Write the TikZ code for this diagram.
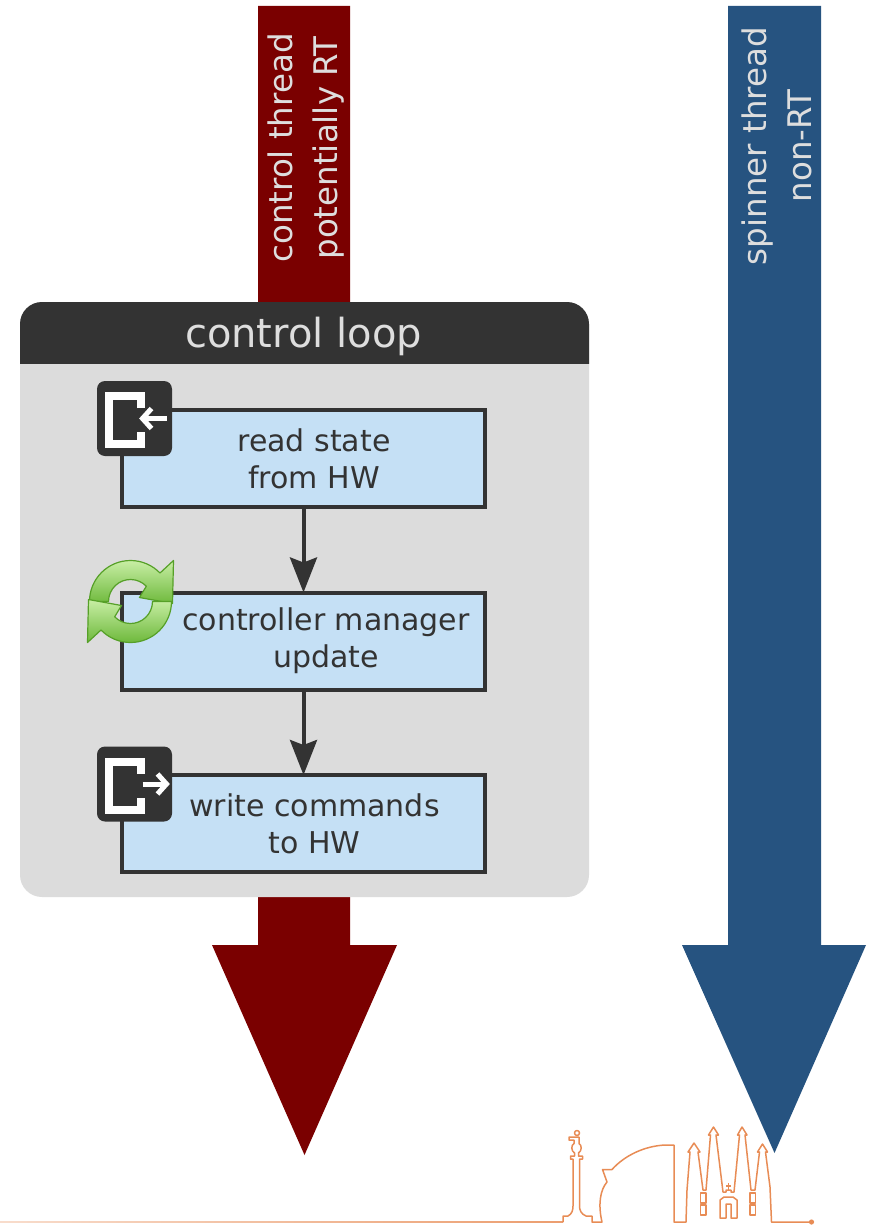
\documentclass[tikz,border=0pt]{standalone}
\usepackage{fontspec}
\setmainfont{DejaVu Sans}
\usetikzlibrary{arrows.meta}

\definecolor{rtred}{RGB}{122,0,0}
\definecolor{nrtblue}{RGB}{38,83,128}
\definecolor{loopgray}{RGB}{220,220,220}
\definecolor{headdark}{RGB}{51,51,51}
\definecolor{stepfill}{RGB}{197,224,245}
\definecolor{ink}{RGB}{51,51,51}
\definecolor{labelgray}{RGB}{222,222,222}
\definecolor{skyline}{RGB}{232,140,85}
\definecolor{leafedge}{RGB}{86,160,40}
\definecolor{leaflight}{RGB}{200,238,165}
\definecolor{leafmid}{RGB}{110,185,60}

\begin{document}
\begin{tikzpicture}[x=1pt,y=-1pt,
  threadlabel/.style={text=labelgray, rotate=90, align=center, inner sep=0pt,
    font=\fontsize{32.5}{45}\selectfont},
  stepbox/.style={draw=ink, line width=4pt, fill=stepfill, minimum width=363pt,
    minimum height=97pt, inner sep=0pt, outer sep=0pt},
  steptext/.style={text=ink, align=center, inner sep=0pt,
    font=\fontsize{30}{37}\selectfont},
  flow/.style={draw=ink, line width=4pt, -{Stealth[length=35pt,width=27pt,inset=5pt]}},
  ioicon/.style={fill=headdark, rounded corners=8pt, minimum size=75pt, inner sep=0pt},
  iomark/.style={draw=white, line width=8pt},
  ioarrow/.style={draw=white, line width=5pt},
  leaf/.style={draw=leafedge, line width=1.2pt, line join=round, top color=leaflight, bottom color=leafmid},
  skystroke/.style={draw=skyline, line width=1.5pt, line join=round},
]
\useasboundingbox (0,0) rectangle (871,1225);
\fill[white] (0,0) rectangle (871,1225);

% ---- thread arrows ----
\fill[rtred] (258,6) -- (350,6) -- (350,945) -- (397,945) -- (304.5,1155)
  -- (212,945) -- (258,945) -- cycle;
\fill[nrtblue] (728,6) -- (821,6) -- (821,945) -- (866,945) -- (774.5,1153)
  -- (682,945) -- (728,945) -- cycle;
\node[threadlabel] (ctl) at (306,148) {control thread\\potentially RT};
\node[threadlabel] (spin) at (777,146) {spinner thread\\non-RT};

% ---- control loop container ----
\node[fill=loopgray, rounded corners=22pt, minimum width=569pt, minimum height=595pt,
  inner sep=0pt] (loop) at (304.5,599.5) {};
\begin{scope}
  \clip (0,0) rectangle (871,363);
  \fill[headdark, rounded corners=22pt] (20,302) rectangle (589,897);
\end{scope}
\node[text=labelgray, font=\fontsize{40}{48}\selectfont, anchor=base, inner sep=0pt]
  (title) at (303.5,347) {control loop};

% ---- steps ----
\node[stepbox] (b1) at (303.5,458.5) {};
\node[stepbox] (b2) at (303.5,641) {};
\node[stepbox] (b3) at (303.5,823.5) {};
\node[steptext] (t1) at ([xshift=10.5pt]b1.center) {read state\\from HW};
\node[steptext] (t2) at ([xshift=22.5pt]b2.center) {controller manager\\update};
\node[steptext] (t3) at ([xshift=11pt]b3.center) {write commands\\to HW};

\draw[flow] (b1.south) -- (b2.north);
\draw[flow] (b2.south) -- (b3.north);

% ---- read icon ----
\node[ioicon] (inicon) at (134.5,418.5) {};
\begin{scope}[shift={(inicon.center)}]
  \draw[iomark] (6.5,-10.5) -- (6.5,-22.5) -- (-25.5,-22.5) -- (-25.5,25.5)
    -- (6.5,25.5) -- (6.5,13.5);
  \draw[ioarrow] (32,0) -- (10,0);
  \draw[ioarrow, line join=miter] (17,-10) -- (8,0) -- (17,10);
\end{scope}

% ---- write icon ----
\node[ioicon] (outicon) at (134.5,784) {};
\begin{scope}[shift={(outicon.center)}]
  \draw[iomark] (6.5,-10.5) -- (6.5,-22.5) -- (-25.5,-22.5) -- (-25.5,25.5)
    -- (6.5,25.5) -- (6.5,13.5);
  \draw[ioarrow] (8,0) -- (30,0);
  \draw[ioarrow, line join=miter] (23,-10) -- (32,0) -- (23,10);
\end{scope}

% ---- refresh icon ----
\coordinate (spin centre) at (130.5,601.5);
\begin{scope}[shift={(spin centre)}, x=1pt, y=1pt]
  \foreach \turn in {0,180}{
    \begin{scope}[rotate=\turn]
      \path[leaf] (180:41) arc[start angle=180, end angle=44, radius=41]
        -- (43,41) -- (42,-2) -- (9,4) -- (44:22)
        arc[start angle=44, end angle=180, radius=22] -- cycle;
    \end{scope}
  }
\end{scope}

% ---- skyline ----
\shade[left color=skyline!30!white, right color=skyline!85!white]
  (0,1221.3) rectangle (563,1222.7);
\draw[skystroke]
  (563,1222) -- (563,1216) -- (568,1216)
  .. controls (572,1214) and (573,1210) .. (573,1206) -- (573,1159)
  -- (570.5,1159) -- (570.5,1156) -- (574.5,1156) -- (574.5,1153)
  .. controls (571,1151) and (571,1145) .. (574,1143.5) -- (574,1140)
  -- (569,1140) -- (569,1137) -- (579,1137) -- (579,1143.5)
  .. controls (582,1145) and (582,1151) .. (578.5,1153) -- (578.5,1156)
  -- (582.5,1156) -- (582.5,1159) -- (579.5,1159) -- (579.5,1206)
  .. controls (579.5,1210) and (581,1214) .. (586,1216) -- (592,1216)
  -- (592,1222) -- (602,1222)
  .. controls (598,1205) and (600,1190) .. (607,1182) -- (602.5,1169.5)
  -- (612,1169.5) .. controls (625,1155) and (645,1146) .. (665,1145)
  -- (674,1145) -- (674,1222) -- (686,1222)
  -- (687,1190) -- (690,1152) -- (688,1152) -- (694,1143) -- (700,1152)
  -- (698,1152) -- (703,1190) -- (706,1190)
  -- (710.5,1135) -- (708.5,1135) -- (713.5,1127) -- (718.5,1135)
  -- (716,1135) -- (723,1192) -- (726,1192) -- (726,1190) -- (731,1190)
  -- (731,1192) -- (734,1192)
  -- (739.5,1135) -- (737.5,1135) -- (742,1127) -- (747,1135) -- (745,1135)
  -- (751,1190) -- (755,1190)
  -- (759.5,1152) -- (757.5,1152) -- (762.5,1144) -- (767.5,1152)
  -- (765.5,1152) -- (770,1187) -- (771.5,1222) -- (811,1222);
\draw[skystroke] (577,1133) circle[radius=2.5];
\draw[skystroke] (728.5,1183) -- (728.5,1190) (726,1186) -- (731,1186);
\draw[skystroke] (720,1218) -- (720,1200) -- (724,1197) -- (733,1197)
  -- (737,1200) -- (737,1218) -- (731,1218) -- (731,1204) -- (726,1204)
  -- (726,1218) -- cycle;
\draw[skystroke] (700.5,1193) rectangle (706,1203) (700.5,1205) rectangle (706,1215);
\draw[skystroke] (750,1193) rectangle (755.5,1203) (750,1205) rectangle (755.5,1215);
\fill[skyline] (811.5,1222) circle[radius=2.6];
\end{tikzpicture}
\end{document}
